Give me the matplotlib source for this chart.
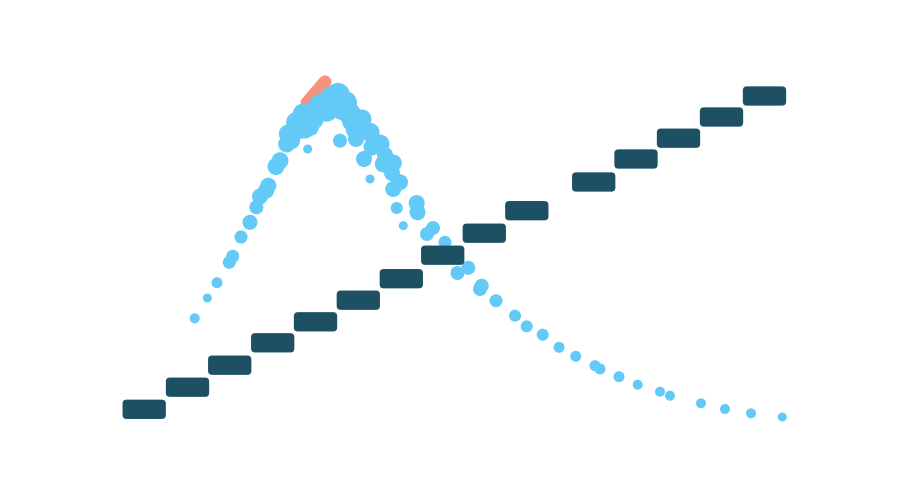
import matplotlib
matplotlib.use("Agg")
import matplotlib.pyplot as plt
from matplotlib.patches import FancyBboxPatch

# ---- data ----
bar_x = [14.42, 18.75, 22.97, 27.27, 31.55, 35.83, 40.13, 44.27, 48.43, 52.68,
         59.37, 63.6, 67.85, 72.15, 76.45]
bar_y = [9.17, 11.38, 13.58, 15.82, 17.92, 20.08, 22.23, 24.58, 26.78, 29.03,
         31.9, 34.2, 36.28, 38.4, 40.5]

pt_x = [19.47, 20.73, 21.7, 22.93, 23.27, 24.1, 25.0, 25.63, 26.0, 26.6, 26.83,
        27.6, 28.0, 28.67, 28.83, 29.67, 30.33, 30.5, 30.77, 31.33, 32.0, 32.67,
        33.2, 33.8, 34.5, 35.0, 34.0, 35.67, 36.2, 37.0, 38.0, 36.4, 37.0, 38.33,
        39.33, 40.0, 39.33, 39.67, 40.33, 41.67, 41.75, 42.7, 43.3, 44.5, 45.75,
        46.83, 48.17, 48.0, 49.6, 51.5, 52.67, 54.27, 55.9, 57.57, 59.5, 60.0,
        61.9, 63.77, 66.0, 67.0, 70.1, 72.5, 75.1, 78.23,
        31.6, 32.8, 34.2, 35.2, 31.0, 29.8, 37.2, 38.5, 39.2, 35.6, 29.2]
pt_y = [18.27, 20.3, 21.83, 23.87, 24.47, 26.4, 27.87, 29.37, 30.45, 31.03, 31.53,
        33.45, 34.03, 35.7, 36.7, 37.87, 38.7, 37.2, 35.2, 38.2, 39.6, 39.03,
        40.3, 40.6, 39.8, 38.7, 36.03, 37.2, 38.2, 36.87, 35.7, 34.2, 32.2, 33.7,
        33.8, 31.87, 31.2, 29.3, 27.53, 29.8, 28.87, 26.7, 27.3, 25.87, 22.8,
        23.32, 21.53, 21.2, 20.03, 18.53, 17.47, 16.63, 15.37, 14.47, 13.53, 13.2,
        12.43, 11.63, 10.93, 10.53, 9.77, 9.2, 8.77, 8.4,
        39.0, 39.8, 39.2, 38.0, 37.4, 37.0, 35.4, 34.6, 32.8, 36.2, 36.0]
pt_d = [10, 9, 11, 13, 13, 13, 15, 14, 16, 16, 16,
        17, 17, 17, 19, 21, 21, 19, 9, 21, 22, 22,
        24, 24, 24, 22, 14, 22, 19, 19, 19, 16, 9, 17,
        17, 16, 16, 12, 9, 16, 16, 14, 14, 13, 14,
        14, 14, 14, 13, 12, 12, 12, 11, 11, 11, 11,
        11, 10, 10, 10, 10, 10, 10, 9,
        22, 22, 22, 20, 18, 17, 17, 16, 16, 16, 16]

hl_x = [30.7, 32.5]
hl_y = [39.8, 41.9]

BAR_W = 4.33
BAR_H = 1.93

fig = plt.figure(figsize=(9, 5.02), dpi=100)
ax = fig.add_axes([0, 0, 1, 1])
ax.set_xlim(0, 90)
ax.set_ylim(0, 50.2)
ax.axis("off")

ax.plot(hl_x, hl_y, color="#f5917c", lw=9.4, solid_capstyle="round", zorder=2)
ax.scatter(pt_x, pt_y, s=[(d * 0.72) ** 2 for d in pt_d], color="#63caf8",
           linewidths=0, zorder=3)

for x, y in zip(bar_x, bar_y):
    ax.add_patch(FancyBboxPatch((x - BAR_W / 2, y - BAR_H / 2), BAR_W, BAR_H,
                                boxstyle="round,pad=0,rounding_size=0.4",
                                facecolor="#1e5064", edgecolor="none", zorder=4))

fig.savefig("out.png", dpi=100)
